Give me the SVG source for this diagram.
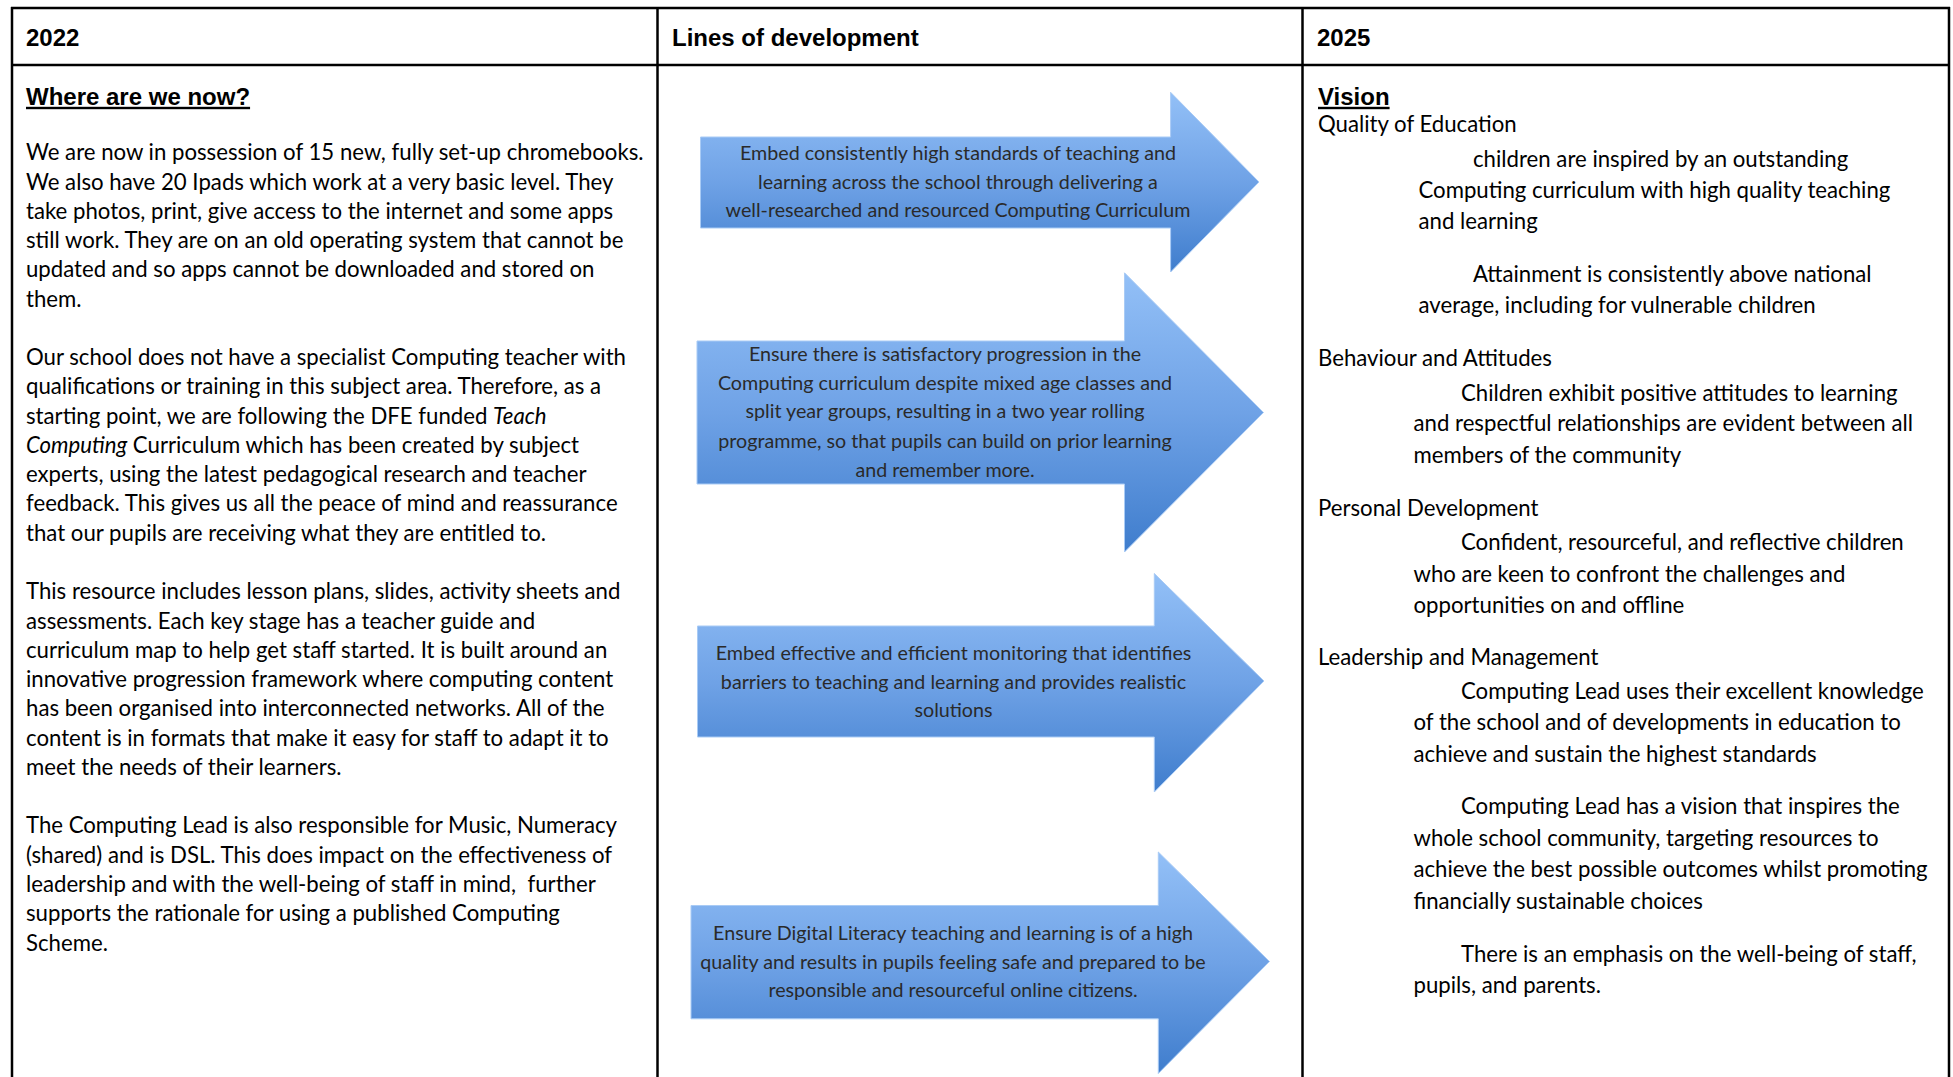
<svg xmlns="http://www.w3.org/2000/svg" width="1953" height="1077" viewBox="0 0 1953 1077">
<style>
.grid{stroke:#000;stroke-width:2.5;fill:none}
.hdr{font-family:"Liberation Sans",Arial,sans-serif;font-weight:bold;font-size:24px;fill:#000}
.ttl{font-family:"Liberation Sans",Arial,sans-serif;font-weight:bold;font-size:24px;fill:#000;text-decoration:underline}
.body{font-family:Lato,"Open Sans",sans-serif;font-size:22.2px;fill:#000}
.arr{fill:url(#blue);stroke:#a9cbf5;stroke-width:1}
.at{font-family:Lato,"Open Sans",sans-serif;font-size:19.7px;fill:#2a2a2a;text-anchor:middle}
</style>
<defs>
<linearGradient id="blue" x1="0" y1="0" x2="0" y2="1">
<stop offset="0" stop-color="#93c0f7"/>
<stop offset="0.5" stop-color="#6fa2e6"/>
<stop offset="1" stop-color="#3f7dcd"/>
</linearGradient>
</defs>
<rect width="1953" height="1077" fill="#fff"/>
<g id="table">
<line class="grid" x1="11" y1="8" x2="1950" y2="8"/>
<line class="grid" x1="11" y1="65" x2="1950" y2="65"/>
<line class="grid" x1="12" y1="7" x2="12" y2="1077"/>
<line class="grid" x1="657.5" y1="7" x2="657.5" y2="1077"/>
<line class="grid" x1="1302.5" y1="7" x2="1302.5" y2="1077"/>
<line class="grid" x1="1949" y1="7" x2="1949" y2="1077"/>
</g>
<g id="headers" transform="translate(0,1.5)">
<text class="hdr" x="26" y="44">2022</text>
<text class="hdr" x="672" y="44">Lines of development</text>
<text class="hdr" x="1317" y="44">2025</text>
</g>
<g id="col-2022" transform="translate(0,1.8)">
<text class="ttl" x="26" y="103">Where are we now?</text>
<text class="body" x="26" y="158.5">We are now in possession of 15 new, fully set-up chromebooks.</text>
<text class="body" x="26" y="187.8">We also have 20 Ipads which work at a very basic level. They</text>
<text class="body" x="26" y="217">take photos, print, give access to the internet and some apps</text>
<text class="body" x="26" y="246.3">still work. They are on an old operating system that cannot be</text>
<text class="body" x="26" y="275.6">updated and so apps cannot be downloaded and stored on</text>
<text class="body" x="26" y="304.9">them.</text>
<text class="body" x="26" y="363.4">Our school does not have a specialist Computing teacher with</text>
<text class="body" x="26" y="392.7">qualifications or training in this subject area. Therefore, as a</text>
<text class="body" x="26" y="421.9">starting point, we are following the DFE funded <tspan font-style="italic">Teach</tspan></text>
<text class="body" x="26" y="451.2"><tspan font-style="italic">Computing</tspan> Curriculum which has been created by subject</text>
<text class="body" x="26" y="480.5">experts, using the latest pedagogical research and teacher</text>
<text class="body" x="26" y="509.7">feedback. This gives us all the peace of mind and reassurance</text>
<text class="body" x="26" y="539">that our pupils are receiving what they are entitled to.</text>
<text class="body" x="26" y="597.6">This resource includes lesson plans, slides, activity sheets and</text>
<text class="body" x="26" y="626.8">assessments. Each key stage has a teacher guide and</text>
<text class="body" x="26" y="656.1">curriculum map to help get staff started. It is built around an</text>
<text class="body" x="26" y="685.4">innovative progression framework where computing content</text>
<text class="body" x="26" y="714.6">has been organised into interconnected networks. All of the</text>
<text class="body" x="26" y="743.9">content is in formats that make it easy for staff to adapt it to</text>
<text class="body" x="26" y="773.2">meet the needs of their learners.</text>
<text class="body" x="26" y="831.7">The Computing Lead is also responsible for Music, Numeracy</text>
<text class="body" x="26" y="861">(shared) and is DSL. This does impact on the effectiveness of</text>
<text class="body" x="26" y="890.3" xml:space="preserve">leadership and with the well-being of staff in mind,  further</text>
<text class="body" x="26" y="919.5">supports the rationale for using a published Computing</text>
<text class="body" x="26" y="948.8">Scheme.</text>
</g>
<g id="arrow-1">
<path class="arr" d="M700.5,137 H1170.6 V92.3 L1259,182 L1170.6,272 V228 H700.5 Z"/>
<g transform="translate(0,1.8)">
<text class="at" x="958" y="158.5">Embed consistently high standards of teaching and</text>
<text class="at" x="958" y="187">learning across the school through delivering a</text>
<text class="at" x="958" y="215.5">well-researched and resourced Computing Curriculum</text>
</g>
</g>
<g id="arrow-2">
<path class="arr" d="M697,341 H1124.5 V272.8 L1263.5,412.5 L1124.5,552 V484 H697 Z"/>
<g transform="translate(0,1.8)">
<text class="at" x="945" y="359">Ensure there is satisfactory progression in the</text>
<text class="at" x="945" y="388">Computing curriculum despite mixed age classes and</text>
<text class="at" x="945" y="416.5">split year groups, resulting in a two year rolling</text>
<text class="at" x="945" y="446">programme, so that pupils can build on prior learning</text>
<text class="at" x="945" y="475">and remember more.</text>
</g>
</g>
<g id="arrow-3">
<path class="arr" d="M697.5,626 H1154.3 V573.5 L1264,681 L1154.3,792 V737 H697.5 Z"/>
<g transform="translate(0,1.8)">
<text class="at" x="953.5" y="658">Embed effective and efficient monitoring that identifies</text>
<text class="at" x="953.5" y="687">barriers to teaching and learning and provides realistic</text>
<text class="at" x="953.5" y="715.5">solutions</text>
</g>
</g>
<g id="arrow-4">
<path class="arr" d="M691,905.5 H1158.3 V852 L1269.5,961.5 L1158.3,1073.5 V1018.8 H691 Z"/>
<g transform="translate(0,1.8)">
<text class="at" x="953" y="938.5">Ensure Digital Literacy teaching and learning is of a high</text>
<text class="at" x="953" y="967">quality and results in pupils feeling safe and prepared to be</text>
<text class="at" x="953" y="995.5">responsible and resourceful online citizens.</text>
</g>
</g>
<g id="connectors"></g>
<g id="col-2025" transform="translate(0,1.8)">
<text class="ttl" x="1318" y="103">Vision</text>
<text class="body" x="1318" y="130">Quality of Education</text>
<text class="body" x="1473" y="165">children are inspired by an outstanding</text>
<text class="body" x="1418.5" y="196.5">Computing curriculum with high quality teaching</text>
<text class="body" x="1418.5" y="227">and learning</text>
<text class="body" x="1473" y="280.5">Attainment is consistently above national</text>
<text class="body" x="1418.5" y="311.5">average, including for vulnerable children</text>
<text class="body" x="1318" y="364.5">Behaviour and Attitudes</text>
<text class="body" x="1461" y="399">Children exhibit positive attitudes to learning</text>
<text class="body" x="1413.5" y="429.5">and respectful relationships are evident between all</text>
<text class="body" x="1413.5" y="461">members of the community</text>
<text class="body" x="1318" y="514.5">Personal Development</text>
<text class="body" x="1461" y="548.5">Confident, resourceful, and reflective children</text>
<text class="body" x="1413.5" y="580">who are keen to confront the challenges and</text>
<text class="body" x="1413.5" y="611.5">opportunities on and offline</text>
<text class="body" x="1318" y="663">Leadership and Management</text>
<text class="body" x="1461" y="697">Computing Lead uses their excellent knowledge</text>
<text class="body" x="1413.5" y="728">of the school and of developments in education to</text>
<text class="body" x="1413.5" y="760">achieve and sustain the highest standards</text>
<text class="body" x="1461" y="812.5">Computing Lead has a vision that inspires the</text>
<text class="body" x="1413.5" y="844.5">whole school community, targeting resources to</text>
<text class="body" x="1413.5" y="875">achieve the best possible outcomes whilst promoting</text>
<text class="body" x="1413.5" y="907">financially sustainable choices</text>
<text class="body" x="1461" y="960">There is an emphasis on the well-being of staff,</text>
<text class="body" x="1413.5" y="991.5">pupils, and parents.</text>
</g>
</svg>
